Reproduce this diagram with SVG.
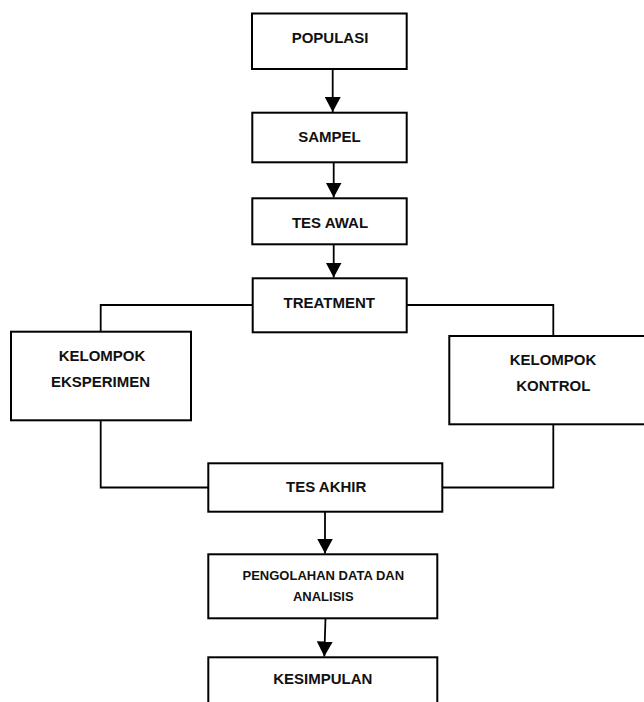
<svg xmlns="http://www.w3.org/2000/svg" width="644" height="702" viewBox="0 0 644 702">
<style>
.box{fill:#fff;stroke:#000;stroke-width:2}
.t{font-family:"Liberation Sans",Arial,sans-serif;font-weight:bold;font-size:15px;fill:#111;text-anchor:middle}
.s{font-size:13px}
.c{fill:none;stroke:#000;stroke-width:1.8}
</style>
<defs>
<marker id="arr" markerUnits="userSpaceOnUse" markerWidth="16" markerHeight="16" viewBox="0 0 16 16" refX="15" refY="8" orient="auto">
<path d="M0,0 L15,8 L0,16 Z" fill="#000"/>
</marker>
</defs>
<rect width="644" height="702" fill="#fff"/>
<g id="connectors">
<line class="c" x1="332.7" y1="69" x2="332.7" y2="112" marker-end="url(#arr)"/>
<line class="c" x1="333.7" y1="162" x2="333.7" y2="197.5" marker-end="url(#arr)"/>
<line class="c" x1="333.7" y1="244" x2="333.7" y2="277.5" marker-end="url(#arr)"/>
<polyline class="c" points="252.5,305 100.7,305 100.7,331.7"/>
<polyline class="c" points="406.7,305 553.3,305 553.3,336"/>
<polyline class="c" points="100.7,420.3 100.7,487.5 208.3,487.5"/>
<polyline class="c" points="553.3,424.3 553.3,487.5 442.3,487.5"/>
<line class="c" x1="325" y1="511.7" x2="325" y2="553.5" marker-end="url(#arr)"/>
<line class="c" x1="325.5" y1="618.3" x2="324.3" y2="656.5" marker-end="url(#arr)"/>
</g>
<g id="populasi">
<rect class="box" x="252" y="13.5" width="154.7" height="55.5"/>
<text class="t" x="330" y="43.4">POPULASI</text>
</g>
<g id="sampel">
<rect class="box" x="252.3" y="112.7" width="154.4" height="49.6"/>
<text class="t" x="329.5" y="142">SAMPEL</text>
</g>
<g id="tes-awal">
<rect class="box" x="252.3" y="198.3" width="154.4" height="46"/>
<text class="t" x="330" y="228.4">TES AWAL</text>
</g>
<g id="treatment">
<rect class="box" x="252.7" y="278.3" width="154" height="54"/>
<text class="t" x="329.3" y="307.7">TREATMENT</text>
</g>
<g id="kelompok-eksperimen">
<rect class="box" x="11" y="331.7" width="180" height="88.6"/>
<text class="t" x="102" y="361.4">KELOMPOK</text>
<text class="t" x="100.5" y="387">EKSPERIMEN</text>
</g>
<g id="kelompok-kontrol">
<rect class="box" x="449.3" y="336" width="206.7" height="88.3"/>
<text class="t" x="553" y="364.7">KELOMPOK</text>
<text class="t" x="553.3" y="391.4">KONTROL</text>
</g>
<g id="tes-akhir">
<rect class="box" x="208.3" y="463.3" width="234" height="48.4"/>
<text class="t" x="326.2" y="492">TES AKHIR</text>
</g>
<g id="pengolahan">
<rect class="box" x="208.3" y="554.3" width="229" height="64"/>
<text class="t s" x="323.3" y="580.4">PENGOLAHAN DATA DAN</text>
<text class="t s" x="323.3" y="601.4">ANALISIS</text>
</g>
<g id="kesimpulan">
<rect class="box" x="208.3" y="657.3" width="229" height="60"/>
<text class="t" x="322.8" y="683.7">KESIMPULAN</text>
</g>
</svg>
